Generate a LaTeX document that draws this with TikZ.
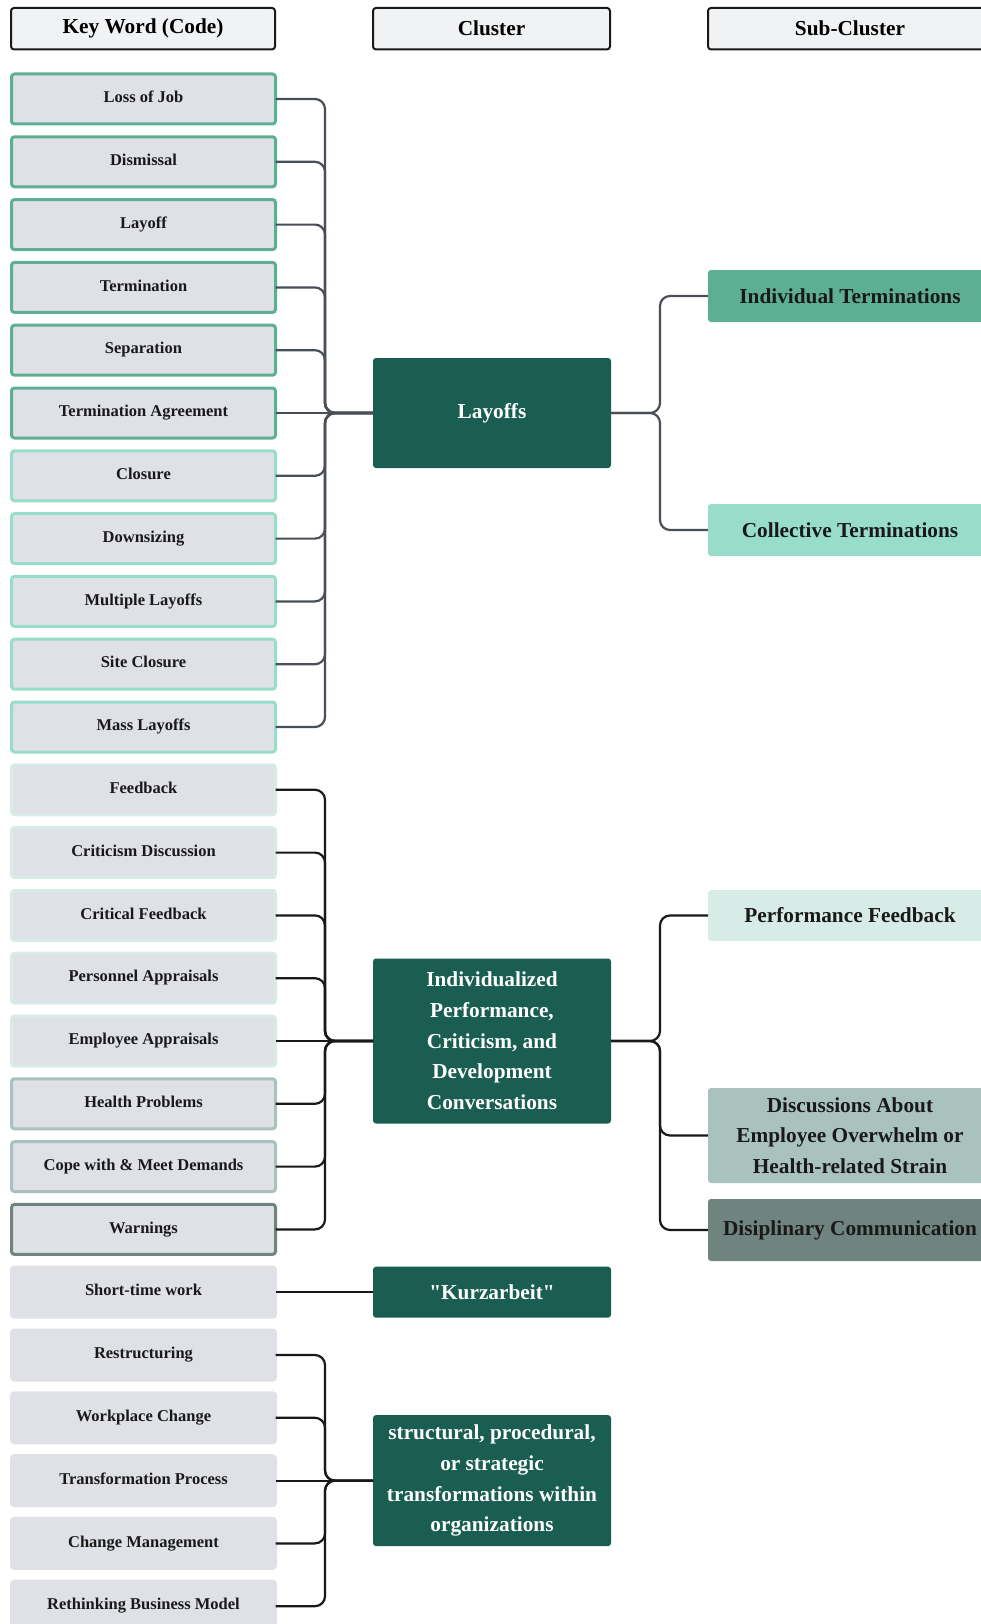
\documentclass[tikz,border=0pt]{standalone}
\usepackage{fontspec}
\setmainfont{Liberation Serif}
\usepackage{xcolor}
\usepackage{tikz}
\usetikzlibrary{positioning}
\definecolor{kwgray}{RGB}{223,225,230}
\definecolor{headgray}{RGB}{241,242,244}
\definecolor{clusterteal}{RGB}{26,94,81}
\definecolor{indivgreen}{RGB}{93,175,147}
\definecolor{collmint}{RGB}{152,221,202}
\definecolor{perfpale}{RGB}{216,236,231}
\definecolor{healthsage}{RGB}{169,194,189}
\definecolor{discslate}{RGB}{111,132,127}
\definecolor{linkgray}{RGB}{74,79,87}

\begin{document}
\begin{tikzpicture}[x=1pt,y=-1pt,
    head/.style={draw=black!90,line width=2pt,rounded corners=3pt,
                 fill=headgray,minimum height=41.5pt,outer sep=0pt,
                 font=\fontsize{21.3}{25}\selectfont\bfseries},
    keyword/.style={rounded corners=3pt,fill=kwgray,line width=3pt,
                    minimum width=264pt,minimum height=50pt,inner sep=0pt,
                    outer sep=0pt,text=black!90,text height=11.5pt,text depth=4pt,
                    font=\fontsize{16.5}{19}\selectfont\bfseries},
    cluster/.style={fill=clusterteal,rounded corners=3pt,minimum width=238pt,
                    text=white,align=center,outer sep=0pt,
                    font=\fontsize{21.3}{30.7}\selectfont\bfseries},
    sub/.style={rounded corners=3pt,minimum width=284pt,align=center,
                outer sep=0pt,text=black!90,
                font=\fontsize{21.3}{30.7}\selectfont\bfseries},
    link/.style={line width=2.2pt,rounded corners=10pt,black!90},
  ]
    \useasboundingbox (0,0) rectangle (981,1624);
    % column headers
    \node[head,minimum width=264pt](h1) at (143,28.7){Key Word (Code)};
    \node[head,minimum width=237pt](h2) at (491.5,28.7){Cluster};
    \node[head,minimum width=284pt](h3) at (850,28.7){Sub-Cluster};
    % key words
    \node[keyword,draw=indivgreen](k1) at (143.5,99){Loss of Job};
    \node[keyword,draw=indivgreen,below=12.8pt of k1](k2){Dismissal};
    \node[keyword,draw=indivgreen,below=12.8pt of k2](k3){Layoff};
    \node[keyword,draw=indivgreen,below=12.8pt of k3](k4){Termination};
    \node[keyword,draw=indivgreen,below=12.8pt of k4](k5){Separation};
    \node[keyword,draw=indivgreen,below=12.8pt of k5](k6){Termination Agreement};
    \node[keyword,draw=collmint,below=12.8pt of k6](k7){Closure};
    \node[keyword,draw=collmint,below=12.8pt of k7](k8){Downsizing};
    \node[keyword,draw=collmint,below=12.8pt of k8](k9){Multiple Layoffs};
    \node[keyword,draw=collmint,below=12.8pt of k9](k10){Site Closure};
    \node[keyword,draw=collmint,below=12.8pt of k10](k11){Mass Layoffs};
    \node[keyword,draw=perfpale,below=12.8pt of k11](k12){Feedback};
    \node[keyword,draw=perfpale,below=12.8pt of k12](k13){Criticism Discussion};
    \node[keyword,draw=perfpale,below=12.8pt of k13](k14){Critical Feedback};
    \node[keyword,draw=perfpale,below=12.8pt of k14](k15){Personnel Appraisals};
    \node[keyword,draw=perfpale,below=12.8pt of k15](k16){Employee Appraisals};
    \node[keyword,draw=healthsage,below=12.8pt of k16](k17){Health Problems};
    \node[keyword,draw=healthsage,below=12.8pt of k17](k18){Cope with \& Meet Demands};
    \node[keyword,draw=discslate,below=12.8pt of k18](k19){Warnings};
    \node[keyword,draw=kwgray,below=12.8pt of k19](k20){Short-time work};
    \node[keyword,draw=kwgray,below=12.8pt of k20](k21){Restructuring};
    \node[keyword,draw=kwgray,below=12.8pt of k21](k22){Workplace Change};
    \node[keyword,draw=kwgray,below=12.8pt of k22](k23){Transformation Process};
    \node[keyword,draw=kwgray,below=12.8pt of k23](k24){Change Management};
    \node[keyword,draw=kwgray,below=12.8pt of k24](k25){Rethinking Business Model};
    % clusters
    \node[cluster,minimum height=110pt,right=97.5pt of k6](c1){Layoffs};
    \node[cluster,minimum height=165pt,right=97.5pt of k16](c2){%
      Individualized\\Performance,\\Criticism, and\\Development\\Conversations};
    \node[cluster,minimum height=51pt,right=97.5pt of k20](c3){%
      \textquotedbl Kurzarbeit\textquotedbl};
    \node[cluster,minimum height=131pt,right=97.5pt of k23](c4){%
      structural, procedural,\\or strategic\\transformations within\\organizations};
    % sub-clusters
    \node[sub,fill=indivgreen,minimum height=52pt](s1) at (850,296){Individual Terminations};
    \node[sub,fill=collmint,minimum height=52pt](s2) at (850,530){Collective Terminations};
    \node[sub,fill=perfpale,minimum height=51pt](s3) at (850,915.5){Performance Feedback};
    \node[sub,fill=healthsage,minimum height=95pt](s4) at (850,1135.5){%
      Discussions About\\Employee Overwhelm or\\Health-related Strain};
    \node[sub,fill=discslate,minimum height=62pt](s5) at (850,1230){Disiplinary Communication};
    % brackets
    \coordinate (j1) at ([xshift=-48pt]c1.west);
    \coordinate (j2) at ([xshift=-48pt]c2.west);
    \coordinate (j4) at ([xshift=-48pt]c4.west);
    \coordinate (r1) at ([xshift=49pt]c1.east);
    \coordinate (r2) at ([xshift=49pt]c2.east);
    \draw[link,linkgray](k1.east)-|(j1)--(c1.west);
    \draw[link,linkgray](k2.east)-|(j1)--(c1.west);
    \draw[link,linkgray](k3.east)-|(j1)--(c1.west);
    \draw[link,linkgray](k4.east)-|(j1)--(c1.west);
    \draw[link,linkgray](k5.east)-|(j1)--(c1.west);
    \draw[link,linkgray](k6.east)--(c1.west);
    \draw[link,linkgray](k7.east)-|(j1)--(c1.west);
    \draw[link,linkgray](k8.east)-|(j1)--(c1.west);
    \draw[link,linkgray](k9.east)-|(j1)--(c1.west);
    \draw[link,linkgray](k10.east)-|(j1)--(c1.west);
    \draw[link,linkgray](k11.east)-|(j1)--(c1.west);
    \draw[link](k12.east)-|(j2)--(c2.west);
    \draw[link](k13.east)-|(j2)--(c2.west);
    \draw[link](k14.east)-|(j2)--(c2.west);
    \draw[link](k15.east)-|(j2)--(c2.west);
    \draw[link](k16.east)--(c2.west);
    \draw[link](k17.east)-|(j2)--(c2.west);
    \draw[link](k18.east)-|(j2)--(c2.west);
    \draw[link](k19.east)-|(j2)--(c2.west);
    \draw[link](k20.east)--(c3.west);
    \draw[link](k21.east)-|(j4)--(c4.west);
    \draw[link](k22.east)-|(j4)--(c4.west);
    \draw[link](k23.east)--(c4.west);
    \draw[link](k24.east)-|(j4)--(c4.west);
    \draw[link](k25.east)-|(j4)--(c4.west);
    \draw[link,linkgray](c1.east)--(r1)|-(s1.west);
    \draw[link,linkgray](c1.east)--(r1)|-(s2.west);
    \draw[link](c2.east)--(r2)|-(s3.west);
    \draw[link](c2.east)--(r2)|-(s4.west);
    \draw[link](c2.east)--(r2)|-(s5.west);
  \end{tikzpicture}
\end{document}
